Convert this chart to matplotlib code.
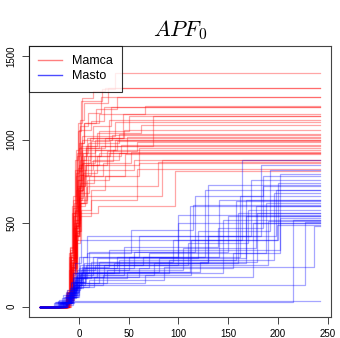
import matplotlib
matplotlib.use("Agg")
import matplotlib.pyplot as plt
from matplotlib.lines import Line2D

plt.rcParams["font.family"] = ["Liberation Sans", "DejaVu Sans"]
plt.rcParams["mathtext.fontset"] = "cm"

# every curve starts at x_start with 0 and ends at x_end
x_start = -39
x_end = 242

# (x, value) step points for each Mamca curve
mamca = [
    [(-13, 80), (-10, 300), (-7, 560), (-4, 820), (-1, 1050), (2, 1230), (23, 1300), (36, 1400)],
    [(-12, 100), (-9, 350), (-5, 620), (-2, 900), (1, 1120), (5, 1220), (29, 1307)],
    [(-12, 60), (-8, 280), (-5, 540), (-1, 760), (2, 980), (5, 1100), (17, 1180), (38, 1253)],
    [(-11, 90), (-8, 330), (-4, 600), (0, 850), (3, 1000), (14, 1080), (32, 1192)],
    [(-13, 50), (-9, 260), (-5, 500), (-2, 720), (2, 900), (8, 1010), (44, 1150)],
    [(-12, 70), (-9, 300), (-6, 560), (-3, 800), (0, 950), (20, 1050), (50, 1138)],
    [(-11, 40), (-7, 230), (-3, 480), (0, 700), (4, 880), (12, 990), (30, 1120)],
    [(-12, 90), (-9, 320), (-6, 590), (-2, 820), (2, 964), (74, 1140)],
    [(-13, 60), (-9, 270), (-5, 520), (-2, 760), (1, 920), (9, 980), (40, 1032)],
    [(-11, 80), (-8, 310), (-4, 570), (0, 790), (5, 900), (22, 960), (48, 1014)],
    [(-12, 50), (-8, 240), (-4, 470), (-1, 690), (3, 860), (16, 940), (36, 1000)],
    [(-10, 70), (-6, 290), (-2, 520), (1, 740), (7, 850), (28, 930), (58, 984)],
    [(-12, 40), (-8, 220), (-4, 440), (0, 650), (4, 800), (18, 900), (42, 968)],
    [(-11, 60), (-7, 260), (-3, 500), (0, 720), (6, 850), (60, 952)],
    [(-13, 30), (-9, 200), (-5, 430), (-2, 640), (2, 790), (12, 870), (34, 940)],
    [(-12, 50), (-8, 250), (-4, 470), (0, 660), (5, 780), (24, 860), (52, 925)],
    [(-10, 40), (-6, 230), (-2, 450), (2, 640), (8, 760), (30, 920)],
    [(-11, 70), (-7, 280), (-3, 490), (0, 680), (10, 780), (46, 914)],
    [(-12, 30), (-8, 190), (-4, 400), (-1, 600), (6, 665), (83, 880)],
    [(-11, 50), (-7, 240), (-3, 450), (1, 620), (8, 724), (79, 866)],
    [(-10, 30), (-6, 200), (-2, 400), (2, 580), (12, 700), (26, 780), (60, 858)],
    [(-12, 40), (-8, 210), (-4, 420), (0, 560), (19, 600), (97, 814)],
    [(-11, 30), (-7, 180), (-3, 380), (1, 540), (12, 640), (58, 826)],
    [(-13, 70), (-10, 320), (-7, 600), (-4, 880), (-1, 1100), (3, 1250), (14, 1290), (26, 1310)],
    [(-12, 80), (-9, 340), (-6, 640), (-2, 920), (1, 1080), (9, 1160), (22, 1253)],
    [(-11, 60), (-8, 290), (-4, 560), (-1, 830), (3, 1020), (36, 1104)],
    [(-12, 90), (-9, 360), (-6, 660), (-3, 940), (0, 1060), (12, 1110), (25, 1196)],
    [(-10, 50), (-6, 260), (-3, 520), (1, 760), (4, 920), (16, 1000), (33, 1030)],
    [(-13, 40), (-10, 220), (-6, 470), (-3, 700), (1, 880), (7, 950), (26, 1010)],
    [(-11, 70), (-8, 300), (-4, 580), (-1, 810), (3, 940), (38, 990)],
    [(-12, 50), (-8, 240), (-5, 480), (-1, 710), (2, 850), (20, 920), (48, 960)],
    [(-10, 60), (-6, 270), (-3, 500), (1, 720), (6, 820), (14, 880), (40, 922)],
    [(-11, 40), (-7, 200), (-3, 420), (0, 620), (7, 740), (15, 820), (55, 880)],
    [(-12, 60), (-9, 280), (-6, 540), (-3, 780), (0, 980), (5, 1100), (20, 1150), (66, 1200)],
    [(-9, 50), (-6, 220), (-3, 430), (0, 640), (3, 820), (7, 960), (18, 1040), (62, 1090)],
    [(-8, 40), (-5, 200), (-2, 420), (1, 620), (5, 780), (9, 900), (31, 1000)],
    [(-9, 60), (-6, 260), (-3, 480), (1, 700), (4, 860), (11, 1010), (45, 1060)],
]

# (x, value) step points for each Masto curve
masto = [
    [(-22, 20), (-14, 60), (-8, 150), (-4, 260), (2, 400), (164, 880)],
    [(-18, 30), (-10, 90), (-5, 180), (0, 300), (8, 420), (183, 850)],
    [(-16, 20), (-9, 70), (-4, 160), (3, 240), (30, 340), (202, 796)],
    [(-20, 40), (-12, 100), (-6, 200), (4, 300), (60, 420), (173, 760)],
    [(-14, 20), (-8, 80), (-3, 170), (5, 260), (130, 730)],
    [(-19, 30), (-11, 80), (-5, 150), (2, 220), (50, 300), (127, 700)],
    [(-15, 25), (-9, 100), (-2, 200), (10, 330), (117, 660)],
    [(-17, 20), (-10, 60), (-4, 130), (6, 200), (40, 280), (158, 630)],
    [(-13, 30), (-7, 110), (-1, 210), (112, 600)],
    [(-21, 35), (-13, 90), (-6, 170), (1, 250), (100, 550)],
    [(-16, 20), (-8, 60), (-2, 140), (20, 200), (145, 520)],
    [(-12, 30), (-6, 90), (0, 180), (25, 250), (190, 510)],
    [(-18, 20), (-10, 50), (-3, 120), (15, 180), (175, 500)],
    [(-20, 25), (-11, 70), (-5, 140), (66, 190), (113, 400), (199, 490)],
    [(-15, 10), (-6, 30), (215, 520)],
    [(-12, 20), (-5, 35)],
    [(-13, 20), (-7, 60), (0, 130), (227, 505)],
    [(-11, 40), (-5, 110), (2, 200), (90, 280), (196, 680)],
    [(-19, 30), (-12, 80), (-6, 150), (0, 230), (70, 320), (188, 620)],
    [(-15, 20), (-8, 70), (-2, 150), (7, 250), (110, 380), (170, 580)],
    [(-23, 30), (-15, 60), (-7, 120), (0, 200), (35, 260), (160, 560)],
    [(-14, 25), (-7, 80), (-1, 170), (12, 270), (95, 400), (200, 740)],
    [(-17, 20), (-9, 70), (-3, 150), (4, 230), (55, 330), (150, 540)],
    [(-12, 30), (-6, 100), (1, 190), (45, 360), (140, 470), (185, 780)],
    [(-20, 15), (-12, 55), (-5, 130), (3, 210), (80, 290), (168, 640)],
    [(-16, 30), (-9, 90), (-3, 180), (18, 290), (120, 450), (192, 820)],
    [(-13, 20), (-6, 70), (0, 140), (28, 220), (105, 350), (178, 600)],
    [(-18, 25), (-10, 80), (-4, 170), (8, 320), (52, 460), (115, 610)],
    [(-14, 30), (-8, 100), (-2, 190), (14, 300), (100, 500)],
    [(-25, 20), (-17, 50), (-9, 110), (-3, 200), (20, 270), (130, 420), (198, 700)],
    [(-16, 20), (-9, 60), (-3, 120), (10, 160), (85, 240), (236, 480)],
    [(-21, 30), (-13, 70), (-6, 130), (2, 180), (60, 230), (155, 320), (202, 530)],
    [(-17, 25), (-10, 75), (-4, 150), (6, 230), (38, 300), (162, 660), (185, 720)],
    [(-15, 20), (-8, 60), (-1, 130), (24, 190), (75, 260), (168, 540)],
    [(-24, 30), (-16, 70), (-8, 140), (-2, 220), (16, 250), (64, 300), (141, 640)],
    [(-19, 20), (-11, 60), (-4, 110), (4, 170), (48, 210), (122, 270), (179, 560)],
]

group_names = ["Mamca", "Masto"]
x_ticks = [0, 50, 100, 150, 200, 250]
y_ticks = [0, 500, 1000, 1500]


def draw_group(ax, curves, color):
    for steps in curves:
        xs = [x_start] + [p[0] for p in steps] + [x_end]
        ys = [0] + [p[1] for p in steps] + [steps[-1][1]]
        ax.step(xs, ys, where="post", color=color, alpha=0.35, lw=0.9)


fig = plt.figure(figsize=(3.4, 3.38), dpi=100)
ax = fig.add_axes([0.0853, 0.063, 0.888, 0.801])

draw_group(ax, mamca, "red")
draw_group(ax, masto, "blue")

ax.set_xlim(-50.2, 253.2)
ax.set_ylim(-60, 1560)
ax.set_xticks(x_ticks)
ax.set_yticks(y_ticks)
ax.tick_params(labelsize=7, length=5, width=0.7, color="#444444", pad=4)
for lab in ax.get_yticklabels():
    lab.set_rotation(90)
    lab.set_va("center")
for sp in ax.spines.values():
    sp.set_color("#444444")
    sp.set_linewidth(0.8)

ax.set_title(r"$APF_0$", fontsize=16, pad=7)

handles = [Line2D([], [], color="red", alpha=0.5, lw=1),
           Line2D([], [], color="blue", alpha=0.7, lw=1)]
leg = ax.legend(handles, group_names, loc="upper left", borderaxespad=0,
                fancybox=False, fontsize=9, handlelength=1.9, handletextpad=0.8,
                borderpad=0.75, labelspacing=0.25)
leg.get_frame().set_edgecolor("black")
leg.get_frame().set_linewidth(0.8)

fig.savefig("out.png", dpi=100)
